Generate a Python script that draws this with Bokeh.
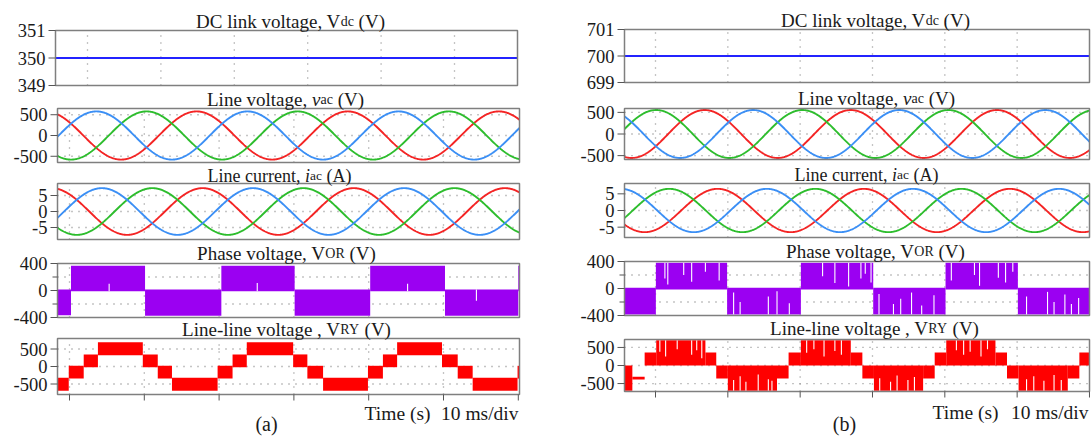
import numpy as np
from bokeh.plotting import figure
from bokeh.layouts import row
from bokeh.models import Range1d
from bokeh.embed import file_html
from bokeh.resources import INLINE
from bokeh.core.properties import value

# ================= data =================
time_ticks = [0, 10, 20, 30, 40, 50, 60]      # ms, 10 ms/div
grid_times = [0, 10, 20, 30, 40, 50]
period_ms = 20.2

vdc_a = 350.0
vdc_b = 700.0
dc_a_ticks = [349, 350, 351]
dc_b_ticks = [699, 700, 701]
vac_ticks = [-500, 0, 500]
iac_ticks = [-5, 0, 5]
vor_ticks = [-400, 0, 400]
vor_minor = [-200, 200]
vry_ticks = [-500, 0, 500]

# three phases drawn red, green, blue: peak value and time of a positive peak (ms)
vac_a_amp = 580.0
vac_a_peak_ms = [17.0, 10.3, 3.6]
iac_a_amp = 7.3
iac_a_peak_ms = [-2.4, 11.07, 4.33]
vac_b_amp = 555.0
vac_b_peak_ms = [6.8, 0.1, 13.5]
iac_b_amp = 6.5
iac_b_peak_ms = [8.6, 1.9, -4.8]

# phase voltage V_OR, PWM bands (start ms, end ms, low V, high V)
vor_a_start = [-1.6, 0.2, 10.1, 20.3, 30.1, 40.2, 50.2, 60.0]
vor_a_end = [0.2, 10.1, 20.3, 30.1, 40.2, 50.2, 60.0, 60.3]
vor_a_low = [-365, -10, -375, -10, -375, -10, -375, -10]
vor_a_high = [15, 365, 15, 365, 15, 365, 15, 365]
vor_a_notch_t = [5.3, 25.1, 45.2, 54.4]
vor_a_notch_from = [-10, -10, -10, 15]
vor_a_notch_to = [100, 110, 100, -150]

vor_b_start = [-4.3, 0.05, 9.9, 20.1, 30.1, 40.1, 50.1]
vor_b_end = [0.05, 9.9, 20.1, 30.1, 40.1, 50.1, 60.3]
vor_b_low = [-385, -15, -385, -15, -385, -15, -385]
vor_b_high = [10, 380, 10, 380, 10, 380, 10]
vor_b_notch_t = [1.3, 1.7, 3.9, 5.0, 6.9, 8.8,
                 10.8, 11.7, 15.6, 16.8, 18.5,
                 23.1, 24.8, 26.7, 28.4, 29.0, 29.8,
                 30.9, 32.9, 33.9, 35.4, 36.8, 38.5,
                 40.9, 44.1, 44.8, 47.4, 48.4, 49.4,
                 51.3, 54.2, 55.1, 56.6, 57.5, 58.5]
vor_b_notch_from = [380] * 6 + [-385] * 5 + [380] * 6 + [-385] * 6 + [380] * 6 + [-385] * 6
vor_b_notch_to = [150, 60, 200, 100, 250, 120,
                  -60, -200, -120, -40, -220,
                  180, 80, 30, 150, 220, 90,
                  -80, -230, -150, -60, -250, -100,
                  120, 200, 40, 160, 90, 250,
                  -120, -50, -200, -90, -230, -140]

# line-line voltage V_RY, stepped PWM bands
vry_a_start = [-1.6, -0.1, 1.9, 3.8, 9.8, 11.8, 13.7, 19.8, 21.8, 23.7, 29.9, 31.8,
               33.9, 39.9, 41.9, 43.8, 49.8, 51.9, 53.9, 59.9]
vry_a_end = [-0.1, 1.9, 3.8, 9.8, 11.8, 13.7, 19.8, 21.8, 23.7, 29.9, 31.8, 33.9,
             39.9, 41.9, 43.8, 49.8, 51.9, 53.9, 59.9, 60.3]
vry_a_low = [-690, -345, -20, 320, -20, -345, -690, -345, -20, 320, -20, -345,
             -690, -345, -20, 320, -20, -345, -690, -345]
vry_a_high = [-320, 20, 345, 690, 345, 20, -320, 20, 345, 690, 345, 20,
              -320, 20, 345, 690, 345, 20, -320, 20]

vry_b_start = [-4.3, -3.2, -1.5, 0.1, 6.9, 8.4, 10.0, 16.8, 18.4, 20.1, 27.0, 28.6,
               30.2, 37.0, 38.6, 40.2, 47.0, 48.6, 50.2, 57.0, 58.6]
vry_b_end = [-3.2, -1.5, 0.1, 6.9, 8.4, 10.0, 16.8, 18.4, 20.1, 27.0, 28.6, 30.2,
             37.0, 38.6, 40.2, 47.0, 48.6, 50.2, 57.0, 58.6, 60.3]
vry_b_low = [-700, -390, 0, 0, 0, -360, -700, -360, 0, 0, 0, -360,
             -700, -360, 0, 0, 0, -360, -700, -360, 0]
vry_b_high = [0, -310, 360, 700, 360, 0, 0, 0, 360, 700, 360, 0,
              0, 0, 360, 700, 360, 0, 0, 0, 360]
vry_b_notch_t = [0.6, 1.4, 3.0, 5.0, 5.7, 6.4,
                 10.8, 11.7, 12.5, 14.2, 15.6, 16.1,
                 20.9, 21.9, 23.3, 24.8, 25.7,
                 31.0, 32.5, 33.4, 34.9, 35.8,
                 41.6, 42.6, 43.5, 45.0, 45.9,
                 51.3, 52.3, 53.7, 55.1, 56.1]
vry_b_notch_from = [700] * 6 + [-700] * 6 + [700] * 5 + [-700] * 5 + [700] * 5 + [-700] * 5
vry_b_notch_to = [380, 250, 450, 300, 420, 200,
                  -400, -300, -450, -250, -380, -420,
                  350, 450, 250, 400, 300,
                  -350, -450, -280, -400, -320,
                  420, 300, 380, 250, 450,
                  -380, -300, -420, -260, -400]

# ================= styling =================
SERIF = "Liberation Serif"
FRAME = "#7f7f7f"
TICK = "#555555"
DOT = "#8a8a8a"
TXT = "#1a1a1a"
RED, GREEN, BLUE = "#f42424", "#2dbd2d", "#3b8ff5"
PHASE_COLORS = [RED, GREEN, BLUE]
PURPLE = "#9b00f2"
LLRED = "#ff0000"
DCBLUE = "#2323ff"
TICK_FONT = "18.5px"
TEXT_DY = -5          # correction of the alphabetic baseline as rendered

REG = {' ': 250, ',': 250, '(': 333, ')': 333, '-': 333, '/': 278, 'A': 722, 'C': 667,
       'D': 722, 'L': 611, 'O': 722, 'P': 556, 'R': 667, 'T': 611, 'V': 722, 'Y': 722,
       'a': 444, 'c': 444, 'd': 500, 'e': 444, 'g': 500, 'h': 500, 'i': 278, 'k': 500,
       'l': 278, 'm': 778, 'n': 500, 'o': 500, 'r': 333, 's': 389, 't': 278, 'u': 500, 'v': 500}
ITA = {'v': 444, 'i': 278}

H = 436


def tw(s, size, style):
    tbl = ITA if style == "italic" else {}
    return sum(tbl.get(c, REG.get(c, 500)) for c in s) * size / 1000.0


def col_figure(W):
    p = figure(width=W, height=H, x_range=Range1d(0, W), y_range=Range1d(H, 0),
               output_backend="svg", toolbar_location=None,
               x_axis_location=None, y_axis_location=None, min_border=0,
               outline_line_color=None, background_fill_color="white",
               border_fill_color="white")
    p.grid.visible = False
    return p


def put_text(p, ox, s, page_x, base, size, style="normal", align="left"):
    p.text(x=[page_x - ox], y=[base + TEXT_DY], text=[s], text_font=value(SERIF),
           text_font_size=f"{size}px", text_font_style=style, text_align=align,
           text_baseline="alphabetic", text_color=TXT)


def rich(p, ox, segs, cx, base):
    ws = [tw(s, sz, st) for s, sz, st in segs]
    x = cx - sum(ws) / 2.0
    for (s, sz, st), w in zip(segs, ws):
        lead = len(s) - len(s.lstrip(' '))
        put_text(p, ox, s.strip(' '), x + lead * 250 * sz / 1000.0, base, sz, st)
        x += w


class Panel:
    """One stacked chart inside a column figure, with its own scales."""

    def __init__(self, p, name, ox, W, box, yr, t0_px, ppm):
        l, r, t, b = box
        self.p, self.name = p, name
        self.l, self.r, self.t, self.b = l - ox, r - ox, t, b
        self.ymin, self.ymax = yr
        per = (yr[1] - yr[0]) / (b - t)
        p.extra_y_ranges[name] = Range1d(yr[0] - (H - b) * per, yr[1] + t * per)
        t0 = t0_px - ox
        self.xname = "t_" + name
        p.extra_x_ranges[self.xname] = Range1d((0 - t0) / ppm, (W - t0) / ppm)
        self.tl = (self.l - t0) / ppm
        self.tr = (self.r - t0) / ppm
        self.kw = dict(x_range_name=self.xname, y_range_name=name)

    def grid(self, xs, ys):
        p = self.p
        if xs:
            p.segment(x0=xs, x1=xs, y0=[self.ymin] * len(xs), y1=[self.ymax] * len(xs),
                      line_color=DOT, line_dash="1 6", line_width=1.3, **self.kw)
        if ys:
            p.segment(x0=[self.tl] * len(ys), x1=[self.tr] * len(ys), y0=ys, y1=ys,
                      line_color=DOT, line_dash="1 6", line_width=1.3, **self.kw)

    def phases(self, amp, peaks):
        t = np.linspace(self.tl, self.tr, 900)
        for tp, c in zip(peaks, PHASE_COLORS):
            self.p.line(t, amp * np.cos(2 * np.pi * (t - tp) / period_ms),
                        line_color=c, line_width=1.9, **self.kw)

    def bands(self, start, end, low, high, color):
        s = np.clip(start, self.tl, self.tr)
        e = np.clip(end, self.tl, self.tr)
        self.p.quad(left=s, right=e, bottom=low, top=high, fill_color=color,
                    line_color=None, **self.kw)

    def notches(self, ts, y0, y1):
        self.p.segment(x0=ts, x1=ts, y0=y0, y1=y1, line_color="white", line_width=1.1,
                       **self.kw)

    def level(self, v, color):
        self.p.segment(x0=[self.tl], x1=[self.tr], y0=[v], y1=[v], line_color=color,
                       line_width=2, **self.kw)

    def frame_and_axis(self, ticks, minor=None):
        p = self.p
        p.quad(left=[self.l], right=[self.r], top=[self.t], bottom=[self.b],
               fill_color=None, line_color=FRAME, line_width=1.5)
        n = len(ticks)
        p.segment(x0=[self.l - 7] * n, x1=[self.l] * n, y0=ticks, y1=ticks,
                  line_color=TICK, line_width=1, y_range_name=self.name)
        if minor:
            m = len(minor)
            p.segment(x0=[self.l - 5] * m, x1=[self.l] * m, y0=minor, y1=minor,
                      line_color=TICK, line_width=1, y_range_name=self.name)
        p.text(x=[self.l - 10] * n, y=ticks, text=[str(v) for v in ticks],
               text_font=value(SERIF), text_font_size=TICK_FONT, text_color=TXT,
               text_align="right", text_baseline="middle", y_range_name=self.name)

    def time_ticks(self, ticks):
        n = len(ticks)
        self.p.segment(x0=ticks, x1=ticks, y0=[self.b] * n, y1=[self.b + 6] * n,
                       line_color=TICK, line_width=1, x_range_name=self.xname)


BIG, SMALL = 19, 14
seg_dc = [("DC link voltage, V", BIG, "normal"), ("dc", SMALL, "normal"), (" (V)", BIG, "normal")]
seg_vac = [("Line voltage, ", BIG, "normal"), ("v", BIG, "italic"), ("ac", SMALL, "normal"),
           (" (V)", BIG, "normal")]
seg_iac = [("Line current, ", 18, "normal"), ("i", 18, "italic"), ("ac", 13.5, "normal"),
           (" (A)", 18, "normal")]
seg_vor = [("Phase voltage, V", BIG, "normal"), ("OR", SMALL, "normal"), (" (V)", BIG, "normal")]
seg_vry = [("Line-line voltage , V", BIG, "normal"), ("RY", SMALL, "normal"),
           (" (V)", BIG, "normal")]


def build_column(ox, W, boxes, yrs, t0, ppm, dc_t0, dc_ppm, d, titles, bottom):
    p = col_figure(W)
    dc = Panel(p, "dc", ox, W, boxes[0], yrs[0], dc_t0, dc_ppm)
    vac = Panel(p, "vac", ox, W, boxes[1], yrs[1], t0, ppm)
    cur = Panel(p, "iac", ox, W, boxes[2], yrs[2], t0, ppm)
    ph = Panel(p, "vor", ox, W, boxes[3], yrs[3], t0, ppm)
    ll = Panel(p, "vry", ox, W, boxes[4], yrs[4], t0, ppm)

    dc.grid(grid_times, None)
    dc.level(d["vdc"], DCBLUE)
    dc.frame_and_axis(d["dc_ticks"])

    vac.grid(grid_times, vac_ticks)
    vac.phases(d["vac_amp"], d["vac_peaks"])
    vac.frame_and_axis(vac_ticks)

    cur.grid(grid_times, iac_ticks)
    cur.phases(d["iac_amp"], d["iac_peaks"])
    cur.frame_and_axis(iac_ticks)

    ph.grid(grid_times, vor_minor)
    ph.bands(*d["vor"], PURPLE)
    ph.notches(*d["vor_notch"])
    ph.frame_and_axis(vor_ticks, vor_minor)

    ll.grid(grid_times, vry_ticks)
    ll.bands(*d["vry"], LLRED)
    if d.get("vry_notch"):
        ll.notches(*d["vry_notch"])
    ll.frame_and_axis(vry_ticks)
    ll.time_ticks(time_ticks)

    for segs, (cx, base) in zip([seg_dc, seg_vac, seg_iac, seg_vor, seg_vry], titles):
        rich(p, ox, segs, cx, base)
    (tx, t_base), (dx, lab, lx, l_base) = bottom
    put_text(p, ox, "Time (s)", tx, t_base, 19.5, align="right")
    put_text(p, ox, "10 ms/div", dx, t_base, 19.5, align="right")
    put_text(p, ox, lab, lx, l_base, 20, align="center")
    return p


data_a = dict(vdc=vdc_a, dc_ticks=dc_a_ticks, vac_amp=vac_a_amp, vac_peaks=vac_a_peak_ms,
              iac_amp=iac_a_amp, iac_peaks=iac_a_peak_ms,
              vor=(vor_a_start, vor_a_end, vor_a_low, vor_a_high),
              vor_notch=(vor_a_notch_t, vor_a_notch_from, vor_a_notch_to),
              vry=(vry_a_start, vry_a_end, vry_a_low, vry_a_high))
data_b = dict(vdc=vdc_b, dc_ticks=dc_b_ticks, vac_amp=vac_b_amp, vac_peaks=vac_b_peak_ms,
              iac_amp=iac_b_amp, iac_peaks=iac_b_peak_ms,
              vor=(vor_b_start, vor_b_end, vor_b_low, vor_b_high),
              vor_notch=(vor_b_notch_t, vor_b_notch_from, vor_b_notch_to),
              vry=(vry_b_start, vry_b_end, vry_b_low, vry_b_high),
              vry_notch=(vry_b_notch_t, vry_b_notch_from, vry_b_notch_to))

WA, WB = 560, 531
fig_a = build_column(
    0, WA,
    boxes=[(55, 517, 30, 85), (57, 519, 108, 162), (57, 519, 183, 239),
           (57, 519, 263, 317), (57, 519, 338, 394)],
    yrs=[(349, 351), (-650, 650), (-8.75, 8.75), (-400, 400), (-800, 800)],
    t0=69, ppm=7.48, dc_t0=87, dc_ppm=7.34, d=data_a,
    titles=[(290, 26), (285, 104), (279, 180), (286, 258), (286, 334)],
    bottom=((430, 418), (518, "(a)", 266, 428)))

fig_b = build_column(
    WA, WB,
    boxes=[(624, 1089, 29, 82), (624, 1089, 108, 159), (624, 1089, 183, 237),
           (624, 1089, 261, 315), (624, 1089, 339, 391)],
    yrs=[(699, 701), (-590, 590), (-8.1, 8.1), (-400, 400), (-720, 720)],
    t0=655, ppm=7.233, dc_t0=655, dc_ppm=7.233, d=data_b,
    titles=[(875, 25), (876, 103), (866, 179), (875, 256), (874, 333)],
    bottom=((998, 417), (1088, "(b)", 844, 428)))

layout = row(fig_a, fig_b)
open("out.html", "w").write(file_html(layout, INLINE))
